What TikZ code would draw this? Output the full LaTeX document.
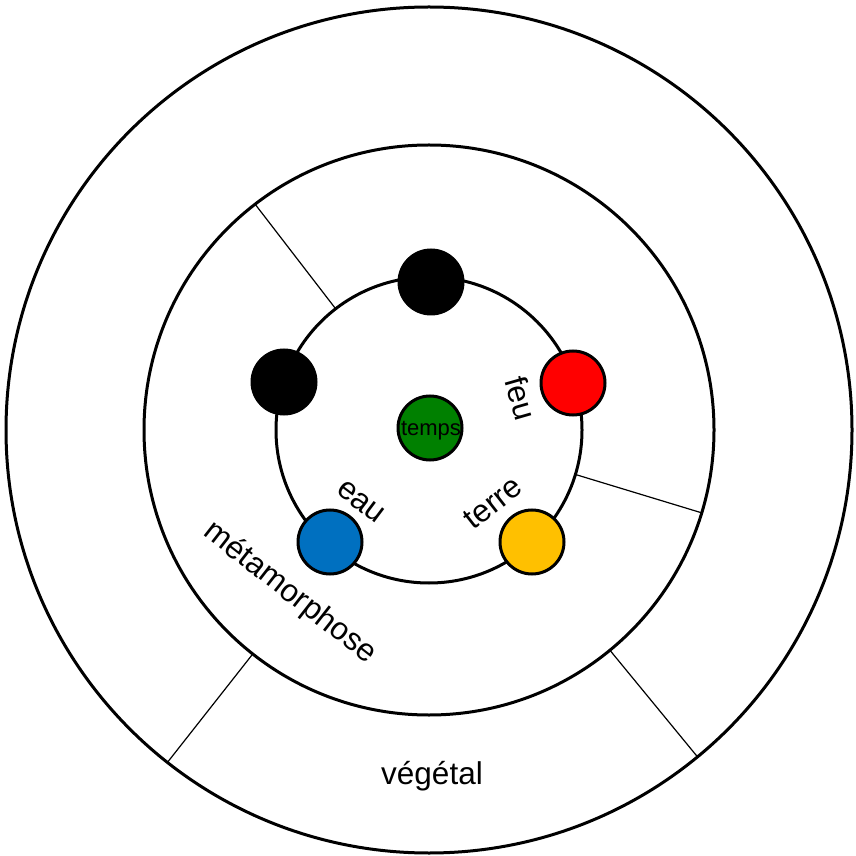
\documentclass[tikz,border=0pt]{standalone}
\usepackage{fontspec}
\setmainfont{Liberation Sans}
\usetikzlibrary{calc}
\definecolor{cred}{HTML}{FF0000}
\definecolor{cgreen}{HTML}{008000}
\definecolor{cblue}{HTML}{0070C0}
\definecolor{cyellow}{HTML}{FFC000}
\begin{document}
\begin{tikzpicture}[x=1pt,y=1pt,
  ring/.style={line width=3pt},
  divider/.style={line width=1.2pt},
  ball/.style={circle,draw=black,line width=3pt,minimum size=64pt,inner sep=0pt},
  lbl/.style={font=\fontsize{31.5}{37}\selectfont,inner sep=0pt},
  smalllbl/.style={font=\fontsize{22}{26}\selectfont,inner sep=0pt}]
\useasboundingbox (0,0) rectangle (856,855);
\coordinate (C) at (429,425);
\draw[ring] (C) circle[radius=423];
\draw[ring] (C) circle[radius=285];
\draw[ring] (C) circle[radius=153];
% dividers
\coordinate (d1a) at ($(C)+(127.6:153)$);
\coordinate (d1b) at ($(C)+(127.6:285)$);
\coordinate (d2a) at ($(C)+(-16.9:153)$);
\coordinate (d2b) at ($(C)+(-16.9:285)$);
\coordinate (d3a) at ($(C)+(231.8:285)$);
\coordinate (d3b) at ($(C)+(231.8:423)$);
\coordinate (d4a) at ($(C)+(-50.6:285)$);
\coordinate (d4b) at ($(C)+(-50.6:423)$);
\draw[divider] (d1a) -- (d1b);
\draw[divider] (d2a) -- (d2b);
\draw[divider] (d3a) -- (d3b);
\draw[divider] (d4a) -- (d4b);
% balls
\node[ball,fill=black] (top) at (431,573) {};
\node[ball,fill=black] (left) at (284,473) {};
\node[ball,fill=cred] (red) at (573,472) {};
\node[ball,fill=cgreen] (green) at (430,427) {};
\node[ball,fill=cblue] (blue) at (330,313) {};
\node[ball,fill=cyellow] (yellow) at (532,313) {};
% labels
\node[smalllbl] (temps) at (431,424) {temps};
\node[lbl,rotate=-74] (feu) at (521,457) {feu};
\node[lbl,rotate=-37] (eau) at (361,353) {eau};
\node[lbl,rotate=38] (terre) at (493,352) {terre};
\node[lbl,rotate=-38] (meta) at (290,262) {métamorphose};
\node[lbl,anchor=base] (veg) at (432,71) {végétal};
\end{tikzpicture}
\end{document}
